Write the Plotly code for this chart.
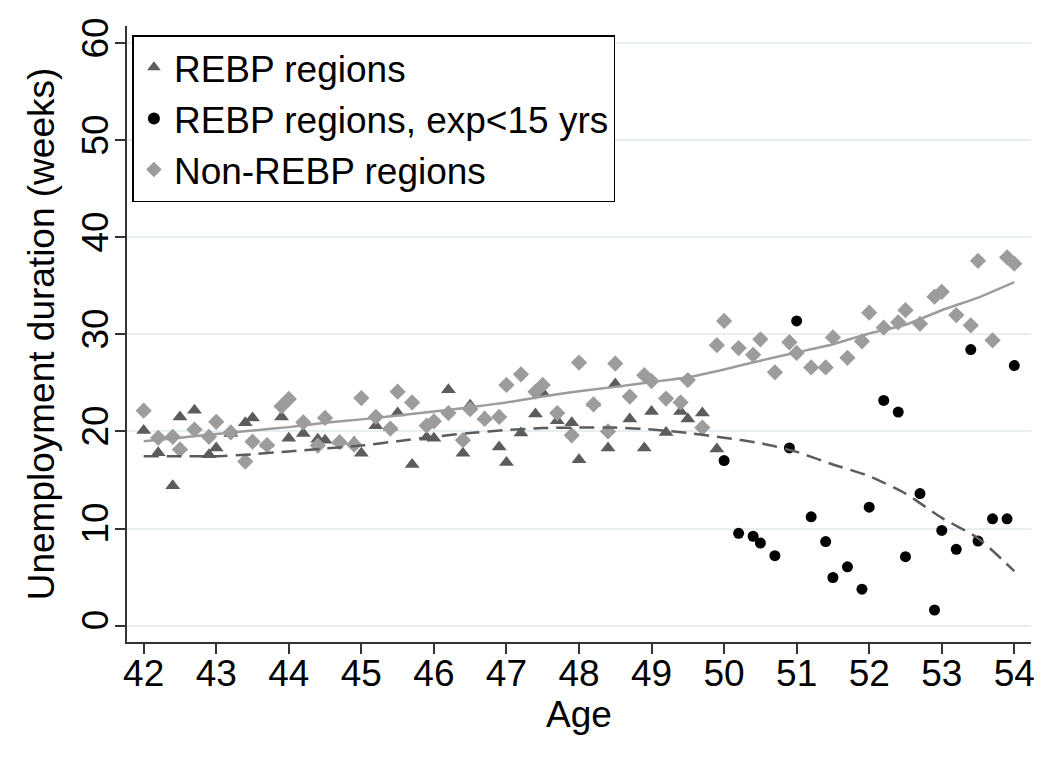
import plotly.graph_objects as go

# ---- data ----
rebp_age = [42.0, 42.2, 42.4, 42.5, 42.7, 42.9, 43.0, 43.2, 43.4, 43.5, 43.7, 43.9,
            44.0, 44.2, 44.4, 44.5, 44.7, 44.9, 45.0, 45.2, 45.4, 45.5, 45.7, 45.9,
            46.0, 46.2, 46.4, 46.5, 46.7, 46.9, 47.0, 47.2, 47.4, 47.5, 47.7, 47.9,
            48.0, 48.2, 48.4, 48.5, 48.7, 48.9, 49.0, 49.2, 49.4, 49.5, 49.7, 49.9]
rebp_val = [20.1, 17.8, 14.4, 21.5, 22.2, 17.6, 18.3, 19.8, 20.9, 21.4, 18.7, 21.5,
            19.3, 19.8, 19.2, 19.1, 19.0, 18.9, 17.75, 20.6, 20.4, 21.9, 16.6, 19.4,
            19.3, 24.3, 17.75, 22.7, 21.5, 18.4, 16.8, 19.85, 21.8, 24.0, 21.1, 20.9,
            17.1, 22.9, 18.3, 24.9, 21.3, 18.3, 22.05, 19.9, 22.05, 21.3, 21.9, 18.2]

exp_age = [50.0, 50.2, 50.4, 50.5, 50.7, 50.9, 51.0, 51.2, 51.4, 51.5, 51.7, 51.9,
           52.0, 52.2, 52.4, 52.5, 52.7, 52.9, 53.0, 53.2, 53.4, 53.5, 53.7, 53.9, 54.0]
exp_val = [17.0, 9.5, 9.2, 8.5, 7.2, 18.3, 31.4, 11.2, 8.65, 4.95, 6.05, 3.75,
           12.2, 23.2, 22.0, 7.1, 13.6, 1.6, 9.8, 7.85, 28.45, 8.7, 11.0, 11.0, 26.8]

non_age = [42.0, 42.2, 42.4, 42.5, 42.7, 42.9, 43.0, 43.2, 43.4, 43.5, 43.7, 43.9,
           44.0, 44.2, 44.4, 44.5, 44.7, 44.9, 45.0, 45.2, 45.4, 45.5, 45.7, 45.9,
           46.0, 46.2, 46.4, 46.5, 46.7, 46.9, 47.0, 47.2, 47.4, 47.5, 47.7, 47.9,
           48.0, 48.2, 48.4, 48.5, 48.7, 48.9, 49.0, 49.2, 49.4, 49.5, 49.7, 49.9,
           50.0, 50.2, 50.4, 50.5, 50.7, 50.9, 51.0, 51.2, 51.4, 51.5, 51.7, 51.9,
           52.0, 52.2, 52.4, 52.5, 52.7, 52.9, 53.0, 53.2, 53.4, 53.5, 53.7, 53.9, 54.0]
non_val = [22.15, 19.35, 19.45, 18.15, 20.2, 19.45, 21.0, 19.9, 16.9, 18.95, 18.6, 22.6,
           23.35, 20.95, 18.55, 21.4, 18.9, 18.65, 23.45, 21.5, 20.3, 24.1, 23.0, 20.6,
           21.05, 21.9, 19.1, 22.3, 21.3, 21.5, 24.8, 25.9, 24.1, 24.8, 21.9, 19.6,
           27.1, 22.8, 20.0, 27.0, 23.6, 25.8, 25.2, 23.4, 23.0, 25.3, 20.4, 28.9,
           31.4, 28.6, 27.9, 29.5, 26.1, 29.2, 28.1, 26.6, 26.6, 29.7, 27.6, 29.3,
           32.25, 30.7, 31.25, 32.5, 31.1, 33.9, 34.4, 32.0, 30.95, 37.6, 29.4, 37.95, 37.3]

fit_age = [42.0, 42.5, 43.0, 43.5, 44.0, 44.5, 45.0, 45.5, 46.0, 46.5, 47.0, 47.5,
           48.0, 48.5, 49.0, 49.5, 50.0, 50.5, 51.0, 51.5, 52.0, 52.5, 53.0, 53.5, 54.0]
fit_non = [19.0, 19.35, 19.75, 20.1, 20.45, 20.9, 21.25, 21.65, 22.05, 22.5, 23.0, 23.6,
           24.15, 24.6, 25.1, 25.6, 26.4, 27.3, 28.15, 29.0, 30.1, 31.0, 32.5, 33.8, 35.4]
fit_rebp = [17.45, 17.45, 17.45, 17.65, 17.95, 18.25, 18.55, 19.0, 19.45, 19.85, 20.15, 20.35,
            20.4, 20.4, 20.2, 19.85, 19.35, 18.8, 17.9, 16.6, 15.4, 13.6, 11.1, 9.0, 5.6]

x_ticks = [42, 43, 44, 45, 46, 47, 48, 49, 50, 51, 52, 53, 54]
y_ticks = [0, 10, 20, 30, 40, 50, 60]

FONT = "Liberation Sans, Arial, Helvetica, sans-serif"
DARK = "#5c5c5c"
LIGHT = "#9c9c9c"

fig = go.Figure()
fig.add_trace(go.Scatter(x=rebp_age, y=rebp_val, mode="markers", name="REBP regions",
                         marker=dict(symbol="triangle-up", size=13, color=DARK, line=dict(width=0))))
fig.add_trace(go.Scatter(x=exp_age, y=exp_val, mode="markers", name="REBP regions, exp<15 yrs",
                         marker=dict(symbol="circle", size=11, color="#000000", line=dict(width=0))))
fig.add_trace(go.Scatter(x=non_age, y=non_val, mode="markers", name="Non-REBP regions",
                         marker=dict(symbol="diamond", size=12.5, color=LIGHT, line=dict(width=0))))
fig.add_trace(go.Scatter(x=fit_age, y=fit_non, mode="lines", showlegend=False,
                         line=dict(color=LIGHT, width=2.5, shape="spline", smoothing=0.6)))
fig.add_trace(go.Scatter(x=fit_age, y=fit_rebp, mode="lines", showlegend=False,
                         line=dict(color=DARK, width=2.5, dash="15px,8px", shape="spline", smoothing=0.6)))

fig.update_layout(
    width=1049, height=759,
    margin=dict(l=119, r=26, t=18, b=125),
    paper_bgcolor="white", plot_bgcolor="white",
    font=dict(family=FONT, size=37, color="#000000"),
    showlegend=True,
    legend=dict(x=0.006, y=0.985, xanchor="left", yanchor="top",
                bgcolor="white", bordercolor="#000000", borderwidth=1.5,
                font=dict(family=FONT, size=37, color="#000000"),
                itemsizing="constant", tracegroupgap=0),
    xaxis=dict(range=[41.77, 54.23], tickmode="array", tickvals=x_ticks,
               ticktext=[str(v) for v in x_ticks], automargin=False,
               showgrid=False, zeroline=False,
               showline=True, linecolor="#333333", linewidth=2,
               ticks="outside", ticklen=10, tickwidth=1.5, tickcolor="#333333",
               ticklabelstandoff=-12,
               tickfont=dict(family=FONT, size=37),
               title=dict(text="Age", font=dict(family=FONT, size=37), standoff=0)),
    yaxis=dict(range=[-1.7, 61.8], tickmode="array", tickvals=y_ticks,
               ticktext=[str(v) for v in y_ticks], tickangle=-90, automargin=False,
               showgrid=True, gridcolor="#e5eef0", gridwidth=1.5, zeroline=False,
               showline=True, linecolor="#333333", linewidth=2,
               ticks="outside", ticklen=10, tickwidth=1.5, tickcolor="#333333",
               ticklabelstandoff=-8,
               tickfont=dict(family=FONT, size=37),
               title=dict(text="Unemployment duration (weeks)", font=dict(family=FONT, size=37), standoff=9)),
)

fig.write_html("out.html")
